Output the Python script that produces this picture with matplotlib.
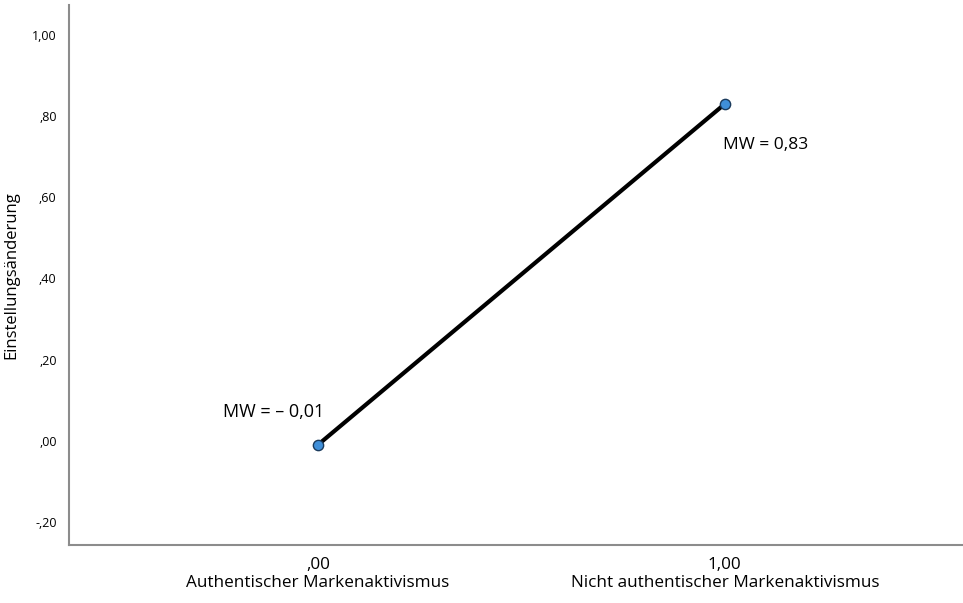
import matplotlib.pyplot as plt
import matplotlib.ticker as ticker

# data
groups = [0, 1]
means = [-0.01, 0.83]
x_labels = [',00\nAuthentischer Markenaktivismus', '1,00\nNicht authentischer Markenaktivismus']
y_ticks = [-0.2, 0.0, 0.2, 0.4, 0.6, 0.8, 1.0]
y_tick_labels = ['-,20', ',00', ',20', ',40', ',60', ',80', '1,00']
notes = ['MW = – 0,01', 'MW = 0,83']

plt.rcParams['font.family'] = ['Open Sans', 'DejaVu Sans']

fig = plt.figure(figsize=(9.63, 6.03), dpi=100)
ax = fig.add_axes([0.0717, 0.0962, 0.928, 0.8955])

ax.plot(groups, means, color='black', linewidth=3, zorder=2)
ax.scatter(groups, means, s=55, color='#3f8fd9', edgecolors='#1a3a5c', linewidths=1, zorder=3)

# labels next to the points
ax.text(groups[0] - 0.11, means[0] + 0.08, notes[0], fontsize=13, ha='center', va='center')
ax.text(groups[1] + 0.1, means[1] - 0.1, notes[1], fontsize=12.5, ha='center', va='center')

ax.set_xlim(-0.612, 1.585)
ax.set_ylim(-0.257, 1.074)
ax.set_xticks(groups)
ax.set_xticklabels(x_labels, fontsize=12.3, linespacing=1.15)
ax.set_yticks(y_ticks)
ax.set_yticklabels(y_tick_labels, fontsize=9)
ax.tick_params(length=0)
ax.tick_params(axis='y', pad=9)
ax.tick_params(axis='x', pad=9)
ax.set_ylabel('Einstellungsänderung', fontsize=12)
ax.yaxis.set_label_coords(-0.056, 0.5)

for side in ['top', 'right']:
    ax.spines[side].set_visible(False)
for side in ['left', 'bottom']:
    ax.spines[side].set_color('#8c8c8c')
    ax.spines[side].set_linewidth(1.5)

fig.savefig('out.png', dpi=100)
